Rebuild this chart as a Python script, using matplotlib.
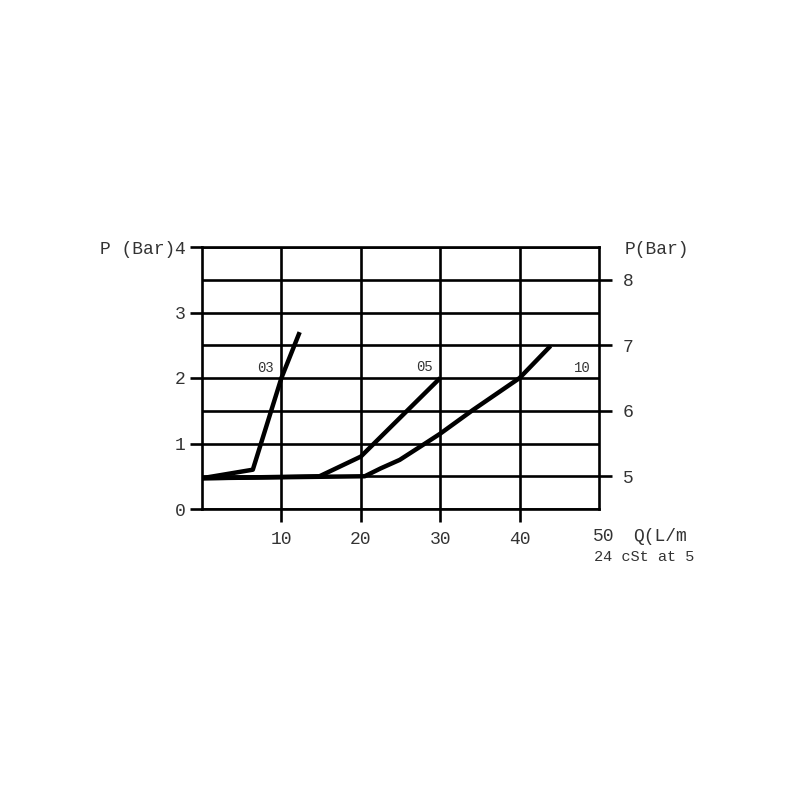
import matplotlib
matplotlib.use("Agg")
from matplotlib import pyplot as plt
from matplotlib.ticker import MultipleLocator

plt.rcParams['font.family'] = ['Liberation Mono', 'DejaVu Sans Mono']

# flow (L/min) vs pressure drop (bar, left scale)
q_03 = [0, 6.4, 10, 12.3]
p_03 = [0.47, 0.6, 2.0, 2.7]

q_05 = [0, 14.8, 20, 30]
p_05 = [0.47, 0.5, 0.8, 2.0]

q_10 = [0, 20.5, 22.5, 24.9, 28.1, 30, 34.1, 40, 43.9]
p_10 = [0.47, 0.5, 0.62, 0.75, 1.0, 1.15, 1.51, 2.0, 2.49]

series = [("03", q_03, p_03, (8.0, 2.15)),
          ("05", q_05, p_05, (28.0, 2.17)),
          ("10", q_10, p_10, (47.9, 2.15))]

x_ticks = [10, 20, 30, 40]
left_ticks = [0, 1, 2, 3, 4]
right_ticks = [5, 6, 7, 8]

fig = plt.figure(figsize=(8, 8), dpi=100)
ax = fig.add_axes([0.2525, 0.36375, 0.49625, 0.3275])

for name, q, p, (lx, ly) in series:
    ax.plot(q, p, color='black', lw=3.2, solid_capstyle='butt', zorder=3)
    ax.text(lx, ly, name, fontsize=10, ha='center', va='center', color='#333333')

ax.set_xlim(0, 50)
ax.set_ylim(0, 4)
ax.set_xticks(x_ticks)
ax.set_yticks(left_ticks)
ax.yaxis.set_minor_locator(MultipleLocator(0.5))
ax.grid(True, which='both', color='black', lw=1.9)
ax.tick_params(axis='y', which='minor', length=0)
ax.tick_params(axis='both', which='major', direction='out', length=9, width=1.9,
               labelsize=13, color='black', labelcolor='#333333')
ax.tick_params(axis='x', pad=7)
ax.tick_params(axis='y', pad=3)
for i in (0, -1):
    ax.yaxis.get_major_ticks()[i].tick1line.set_visible(False)
for s in ax.spines.values():
    s.set_linewidth(1.9)

ax2 = ax.twinx()
ax2.set_ylim(4.5, 8.5)
ax2.set_yticks(right_ticks)
ax2.tick_params(axis='y', direction='out', length=9, width=1.9, labelsize=13,
                pad=8, labelcolor='#333333')
for s in ax2.spines.values():
    s.set_visible(False)

fig.text(0.125, 0.688, "P (Bar)", fontsize=13, va='center', color='#333333')
fig.text(0.781, 0.688, "P(Bar)", fontsize=13, va='center', color='#333333')
fig.text(0.741, 0.329, "50", fontsize=13, va='center', color='#333333')
fig.text(0.791, 0.329, "Q(L/m", fontsize=13, va='center', color='#333333')
fig.text(0.742, 0.304, "24 cSt at 5", fontsize=11, va='center', color='#333333')

fig.savefig("out.png", dpi=100)
